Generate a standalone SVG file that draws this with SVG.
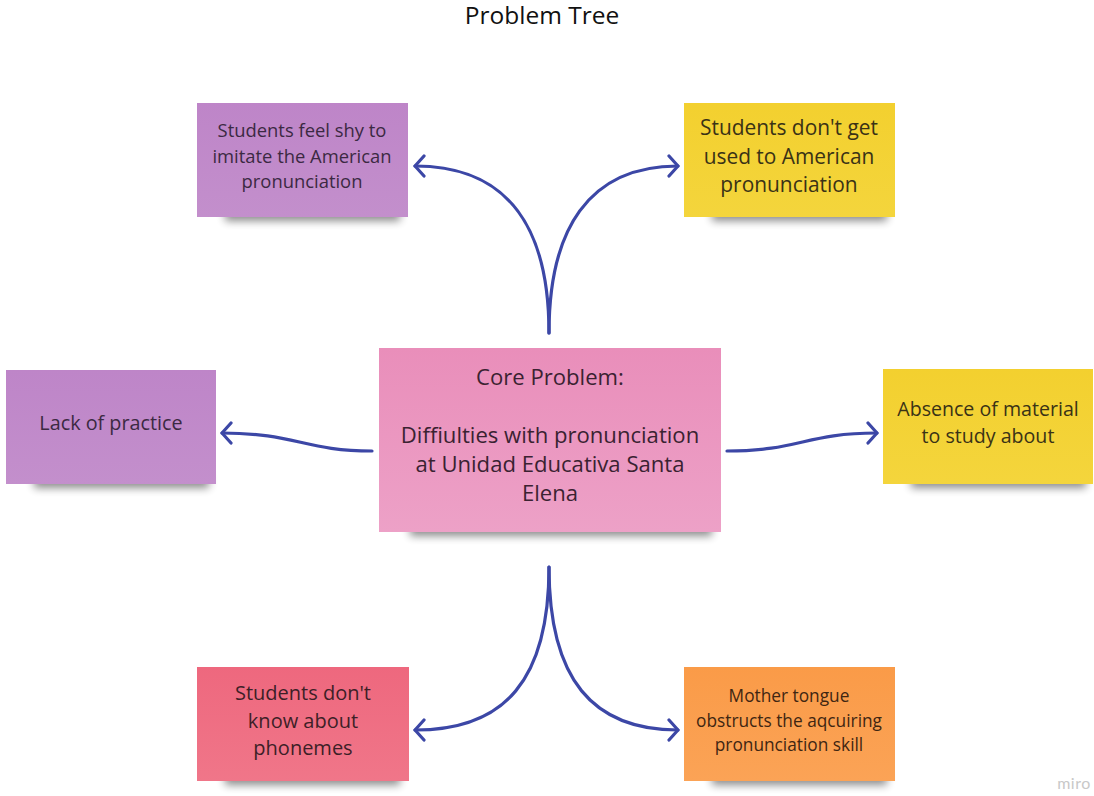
<svg xmlns="http://www.w3.org/2000/svg" width="1094" height="796" viewBox="0 0 1094 796">
<defs>
<style>
text{font-family:"Open Sans","Liberation Sans",sans-serif;text-anchor:middle;}
.title{font-size:24.5px;fill:#111;}
.conn path{fill:none;stroke:#3c47a6;stroke-width:3.2;stroke-linecap:round;}
.sh{fill:#000;opacity:0.45;filter:url(#blur);}
</style>
<filter id="blur" x="-20%" y="-100%" width="140%" height="300%"><feGaussianBlur stdDeviation="4"/></filter>
<marker id="ah" viewBox="-12 -12 16 24" markerWidth="16" markerHeight="24" refX="0" refY="0" orient="auto" markerUnits="userSpaceOnUse">
<path d="M-9,-10 L0,0 L-9,10" fill="none" stroke="#3c47a6" stroke-width="3.2" stroke-linecap="round" stroke-linejoin="round"/>
</marker>
<linearGradient id="gPurple" x1="0" y1="0" x2="0" y2="1"><stop offset="0" stop-color="#be85c8"/><stop offset="1" stop-color="#c38fcc"/></linearGradient>
<linearGradient id="gYellow" x1="0" y1="0" x2="0" y2="1"><stop offset="0" stop-color="#f3d02f"/><stop offset="1" stop-color="#f4d53c"/></linearGradient>
<linearGradient id="gPink" x1="0" y1="0" x2="0" y2="1"><stop offset="0" stop-color="#e98eba"/><stop offset="1" stop-color="#eda1c7"/></linearGradient>
<linearGradient id="gRed" x1="0" y1="0" x2="0" y2="1"><stop offset="0" stop-color="#ee687e"/><stop offset="1" stop-color="#f07689"/></linearGradient>
<linearGradient id="gOrange" x1="0" y1="0" x2="0" y2="1"><stop offset="0" stop-color="#fa9b48"/><stop offset="1" stop-color="#fba356"/></linearGradient>
</defs>
<rect width="1094" height="796" fill="#ffffff"/>
<text class="title" x="542" y="24">Problem Tree</text>

<g class="conn" id="connectors">
<path d="M549,333 C549,230 510,166 415,166" marker-end="url(#ah)"/>
<path d="M549,333 C549,230 588,166 678,166" marker-end="url(#ah)"/>
<path d="M549,567 C549,680 505,730 415,730" marker-end="url(#ah)"/>
<path d="M549,567 C549,680 593,730 678,730" marker-end="url(#ah)"/>
<path d="M372,451 C305,451 295,433 222,433" marker-end="url(#ah)"/>
<path d="M727,451 C800,451 805,433 877,433" marker-end="url(#ah)"/>
</g>

<g id="n-shy">
<rect class="sh" x="225" y="207" width="175" height="14"/>
<rect x="197" y="103" width="211" height="114" fill="url(#gPurple)"/>
<text x="302" y="137" font-size="18.4" fill="#3b2942"><tspan x="302">Students feel shy to</tspan><tspan x="302" dy="25.5">imitate the American</tspan><tspan x="302" dy="25.5">pronunciation</tspan></text>
</g>

<g id="n-used">
<rect class="sh" x="712" y="207" width="175" height="14"/>
<rect x="684" y="103" width="211" height="114" fill="url(#gYellow)"/>
<text x="789" y="135" font-size="20.9" fill="#3a3216"><tspan x="789">Students don't get</tspan><tspan x="789" dy="28.5">used to American</tspan><tspan x="789" dy="28.5">pronunciation</tspan></text>
</g>

<g id="n-core">
<rect class="sh" x="410" y="520" width="302" height="16"/>
<rect x="379" y="348" width="342" height="184" fill="url(#gPink)"/>
<text x="550" y="385" font-size="22.1" fill="#3a2231"><tspan x="550">Core Problem:</tspan><tspan x="550" dy="58">Diffiulties with pronunciation</tspan><tspan x="550" dy="29">at Unidad Educativa Santa</tspan><tspan x="550" dy="29">Elena</tspan></text>
</g>

<g id="n-lack">
<rect class="sh" x="34" y="474" width="175" height="14"/>
<rect x="6" y="370" width="210" height="114" fill="url(#gPurple)"/>
<text x="111" y="430" font-size="19.8" fill="#3b2942">Lack of practice</text>
</g>

<g id="n-absence">
<rect class="sh" x="911" y="474" width="175" height="14"/>
<rect x="883" y="369" width="210" height="115" fill="url(#gYellow)"/>
<text x="988" y="416" font-size="19.6" fill="#3a3216"><tspan x="988">Absence of material</tspan><tspan x="988" dy="27">to study about</tspan></text>
</g>

<g id="n-phonemes">
<rect class="sh" x="225" y="771" width="175" height="14"/>
<rect x="197" y="667" width="212" height="114" fill="url(#gRed)"/>
<text x="303" y="700" font-size="20" fill="#3d1f27"><tspan x="303">Students don't</tspan><tspan x="303" dy="27.5">know about</tspan><tspan x="303" dy="27.5">phonemes</tspan></text>
</g>

<g id="n-mother">
<rect class="sh" x="712" y="771" width="175" height="14"/>
<rect x="684" y="667" width="211" height="114" fill="url(#gOrange)"/>
<text x="789" y="702" font-size="17.3" fill="#3f2612"><tspan x="789">Mother tongue</tspan><tspan x="789" dy="24.5">obstructs the aqcuiring</tspan><tspan x="789" dy="24.5">pronunciation skill</tspan></text>
</g>

<text x="1074" y="789" font-size="16" fill="#c8c8c8" letter-spacing="0.5" style="font-family:'Lato','Liberation Sans',sans-serif">miro</text>
</svg>
